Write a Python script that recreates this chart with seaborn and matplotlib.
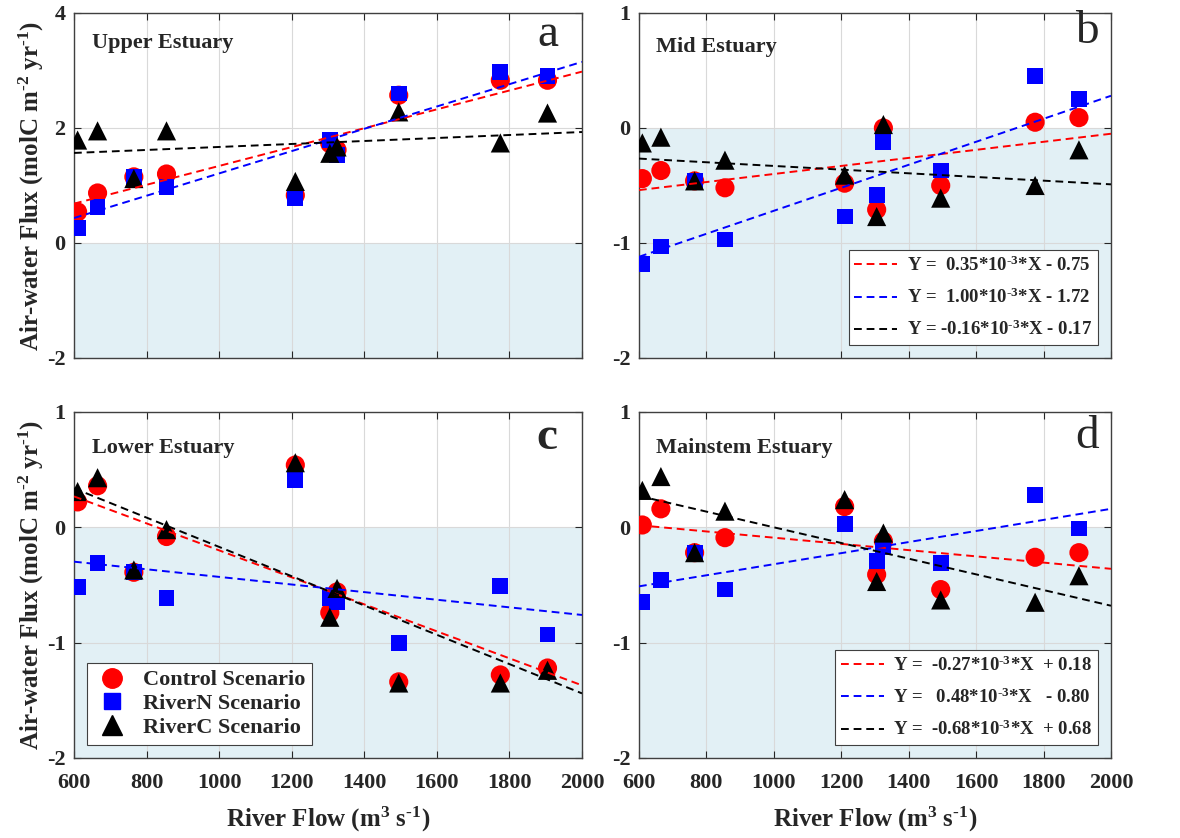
import numpy as np
import matplotlib
matplotlib.use("Agg")
import matplotlib.pyplot as plt
from matplotlib.lines import Line2D
import seaborn as sns

# river flow (m3 s-1), same for every panel
FLOW = [610, 665, 765, 855, 1210, 1305, 1325, 1495, 1775, 1905]

# air-water flux per region and scenario
UPPER_CTRL = [0.54, 0.87, 1.15, 1.20, 0.83, 1.73, 1.62, 2.57, 2.83, 2.83]
UPPER_N    = [0.26, 0.63, 1.15, 0.98, 0.78, 1.79, 1.53, 2.60, 2.98, 2.90]
UPPER_C    = [1.79, 1.95, 1.12, 1.95, 1.07, 1.56, 1.67, 2.28, 1.74, 2.26]

MID_CTRL = [-0.44, -0.37, -0.46, -0.52, -0.48, -0.71, 0.00, -0.50, 0.05, 0.09]
MID_N    = [-1.18, -1.03, -0.46, -0.97, -0.77, -0.58, -0.12, -0.37, 0.45, 0.25]
MID_C    = [-0.13, -0.08, -0.46, -0.28, -0.41, -0.77, 0.03, -0.61, -0.50, -0.19]

LOWER_CTRL = [0.22, 0.36, -0.39, -0.08, 0.54, -0.74, -0.56, -1.34, -1.28, -1.22]
LOWER_N    = [-0.52, -0.31, -0.39, -0.61, 0.41, -0.61, -0.65, -1.00, -0.51, -0.93]
LOWER_C    = [0.31, 0.43, -0.37, -0.02, 0.56, -0.78, -0.53, -1.35, -1.35, -1.24]

MAIN_CTRL = [0.02, 0.16, -0.22, -0.09, 0.18, -0.41, -0.12, -0.54, -0.26, -0.22]
MAIN_N    = [-0.65, -0.46, -0.22, -0.54, 0.03, -0.29, -0.17, -0.31, 0.28, -0.01]
MAIN_C    = [0.32, 0.44, -0.22, 0.14, 0.24, -0.47, -0.05, -0.63, -0.65, -0.42]

# linear fits: slope (per m3 s-1) and intercept, order control / RiverN / RiverC
UPPER_SLOPE = [1.64e-3, 1.94e-3, 0.26e-3]
UPPER_ICPT  = [-0.30, -0.73, 1.41]
MID_SLOPE   = [0.35e-3, 1.00e-3, -0.16e-3]
MID_ICPT    = [-0.75, -1.72, -0.17]
LOWER_SLOPE = [-1.17e-3, -0.33e-3, -1.27e-3]
LOWER_ICPT  = [0.97, -0.10, 1.10]
MAIN_SLOPE  = [-0.27e-3, 0.48e-3, -0.68e-3]
MAIN_ICPT   = [0.18, -0.80, 0.68]

MID_EQ  = [r"Y =  0.35*10$^{\text{-3}}$*X - 0.75",
           r"Y =  1.00*10$^{\text{-3}}$*X - 1.72",
           r"Y = -0.16*10$^{\text{-3}}$*X - 0.17"]
MAIN_EQ = [r"Y =  -0.27*10$^{\text{-3}}$*X  + 0.18",
           r"Y =   0.48*10$^{\text{-3}}$*X   - 0.80",
           r"Y =  -0.68*10$^{\text{-3}}$*X  + 0.68"]

SCENARIOS = ["Control Scenario", "RiverN Scenario", "RiverC Scenario"]
COLORS  = ["#FF0000", "#0000FF", "#000000"]
MARKERS = ["o", "s", "^"]
SIZES   = [190, 130, 190]
SHADE   = "#E2F0F5"

sns.set_style("ticks")
plt.rcParams.update({
    "font.family": ["Liberation Serif", "DejaVu Serif"],
    "font.weight": "bold",
    "font.size": 16,
    "axes.labelweight": "bold",
    "axes.unicode_minus": False,
    "mathtext.fontset": "custom",
    "mathtext.bf": "Liberation Serif:bold",
    "mathtext.rm": "Liberation Serif:bold",
    "mathtext.default": "bf",
    "axes.edgecolor": "#404040",
    "axes.linewidth": 1.0,
})

fig = plt.figure(figsize=(11.8, 8.38), dpi=100)
rects = {
    "a": [0.0627, 0.5728, 0.4305, 0.4117],
    "b": [0.5415, 0.5728, 0.4000, 0.4117],
    "c": [0.0627, 0.0955, 0.4305, 0.4129],
    "d": [0.5415, 0.0955, 0.4000, 0.4129],
}
panels = [
    ("a", "Upper Estuary", [UPPER_CTRL, UPPER_N, UPPER_C], UPPER_SLOPE, UPPER_ICPT, (-2, 4), [-2, 0, 2, 4], None),
    ("b", "Mid Estuary", [MID_CTRL, MID_N, MID_C], MID_SLOPE, MID_ICPT, (-2, 1), [-2, -1, 0, 1], MID_EQ),
    ("c", "Lower Estuary", [LOWER_CTRL, LOWER_N, LOWER_C], LOWER_SLOPE, LOWER_ICPT, (-2, 1), [-2, -1, 0, 1], "markers"),
    ("d", "Mainstem Estuary", [MAIN_CTRL, MAIN_N, MAIN_C], MAIN_SLOPE, MAIN_ICPT, (-2, 1), [-2, -1, 0, 1], MAIN_EQ),
]
letter_pos = {"a": (0.933, 0.936), "b": (0.949, 0.945), "c": (0.931, 0.925), "d": (0.949, 0.928)}
xfit = np.array([600, 2000])

for key, name, series, slopes, icpts, ylim, yticks, leg in panels:
    ax = fig.add_axes(rects[key])
    ax.set_axisbelow(True)
    ax.axhspan(ylim[0], 0, color=SHADE, zorder=0.2, lw=0)
    ax.grid(True, color="#D9D9D9", lw=0.8)

    for vals, c, m, s in zip(series, COLORS, MARKERS, SIZES):
        sns.scatterplot(x=FLOW, y=vals, color=c, marker=m, s=s, edgecolor="none",
                        ax=ax, zorder=3, legend=False)
    lines = []
    for sl, ic, c in zip(slopes, icpts, COLORS):
        sns.lineplot(x=xfit, y=sl * xfit + ic, color=c, ls=(0, (4, 2.5)), lw=1.4,
                     ax=ax, zorder=4, legend=False)
        lines.append(Line2D([], [], color=c, ls=(0, (4, 2.5)), lw=1.4))

    ax.set_xlim(600, 2000)
    ax.set_ylim(*ylim)
    ax.set_xticks(range(600, 2001, 200))
    ax.set_yticks(yticks)
    ax.tick_params(direction="in", top=True, right=True, length=5, width=0.8,
                   labelsize=16)
    ax.tick_params(axis="x", pad=11)
    ax.tick_params(axis="y", pad=6)
    for lab in ax.get_xticklabels() + ax.get_yticklabels():
        lab.set_fontweight("bold")
    if key in ("a", "b"):
        ax.set_xticklabels([])
    else:
        ax.set_xlabel(r"River Flow (m$^{3}$ s$^{\text{-1}}$)", fontsize=18, labelpad=8)
    if key in ("a", "c"):
        ax.set_ylabel(r"Air-water Flux (molC m$^{\text{-2}}$ yr$^{\text{-1}}$)", fontsize=18, labelpad=1)

    ytxt = 0.913 if key == "a" else (0.90 if key == "b" else 0.896)
    ax.text(0.036, ytxt, name, transform=ax.transAxes, fontsize=16,
            fontweight="bold", va="center", ha="left")
    lx, ly = letter_pos[key]
    ax.text(lx, ly, key, transform=ax.transAxes, fontsize=34,
            fontweight="bold" if key == "c" else "normal", va="center", ha="center")

    if leg == "markers":
        handles = [Line2D([], [], color=c, marker=m, ls="none", markersize=14 if m != "s" else 12)
                   for c, m in zip(COLORS, MARKERS)]
        lg = ax.legend(handles, SCENARIOS, loc="lower left", bbox_to_anchor=(0.026, 0.038),
                       borderaxespad=0, fancybox=False, framealpha=1, edgecolor="#404040",
                       fontsize=16, handletextpad=0.6, labelspacing=0.15, borderpad=0.3,
                       handlelength=1.6)
        lg.get_frame().set_linewidth(0.8)
        lg.set_zorder(6)
    elif leg is not None:
        lg = ax.legend(lines, leg, loc="lower right", bbox_to_anchor=(0.972, 0.038),
                       borderaxespad=0, fancybox=False, framealpha=1, edgecolor="#404040",
                       fontsize=13.5, handlelength=2.3, labelspacing=0.68, borderpad=0.3,
                       handletextpad=0.5)
        lg.get_frame().set_linewidth(0.8)
        lg.set_zorder(6)

fig.savefig("out.png", dpi=100)
